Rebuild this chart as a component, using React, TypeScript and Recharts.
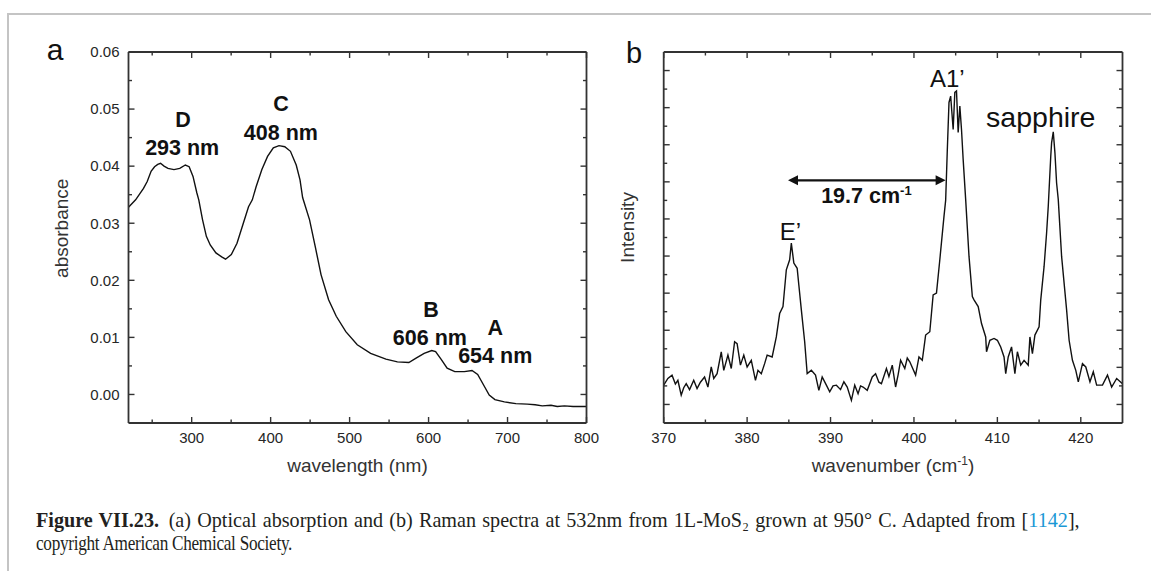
import React from 'react';
import { LineChart, Line, XAxis, YAxis, ReferenceDot, ReferenceLine } from 'recharts';

// ---------- Panel (a): optical absorption ----------
const wavelength = [
  220, 229, 239, 243.7, 248.6, 253, 257, 260.6, 265, 270, 277.6, 284.9, 292, 296.8, 301.7, 306.6, 309,
  313.8, 318.6, 323.5, 330.7, 338, 342.9, 350.2, 357.4, 364.7, 372, 376.8, 381.6, 388.9, 396.1, 403.4,
  410.6, 417.9, 425.1, 432.4, 437.2, 440.5, 449.3, 456.5, 463.8, 473.4, 483.1, 495.2, 509.7, 526.6, 546,
  560.5, 575, 584.7, 594.4, 604, 608.9, 616.2, 623.5, 633.2, 645.3, 655, 662.2, 669.5, 676.8, 684, 696,
  710.6, 725, 735, 744, 755, 763, 772, 783, 792, 800,
];
const absorbance = [
  0.0328, 0.0341, 0.0361, 0.0373, 0.0391, 0.0399, 0.0403, 0.0405, 0.04, 0.0396, 0.0394, 0.0396, 0.0402,
  0.0399, 0.0382, 0.0353, 0.0341, 0.0306, 0.0277, 0.0262, 0.0248, 0.0241, 0.0237, 0.0245, 0.0265, 0.0297,
  0.0329, 0.0341, 0.0364, 0.0394, 0.0417, 0.0432, 0.0436, 0.0434, 0.0426, 0.0402, 0.0376, 0.0345, 0.0306,
  0.0259, 0.021, 0.0166, 0.0137, 0.011, 0.0087, 0.0072, 0.0062, 0.0057, 0.0056, 0.0064, 0.0072, 0.0077,
  0.0075, 0.0061, 0.0046, 0.004, 0.004, 0.0042, 0.0035, 0.0017, -0.0001, -0.0009, -0.0013, -0.0016,
  -0.0017, -0.0018, -0.002, -0.0019, -0.0021, -0.002, -0.0021, -0.0021, -0.0021,
];
const absXTicks = [300, 400, 500, 600, 700, 800];
const absXMinor = [250, 350, 450, 550, 650, 750];
const absYTicks = [0, 0.01, 0.02, 0.03, 0.04, 0.05, 0.06];
const absYMinor = [0.005, 0.015, 0.025, 0.035, 0.045, 0.055];
const absLabels = [
  { text: 'D', x: 289, y: 0.0483 },
  { text: '293 nm', x: 288, y: 0.0433 },
  { text: 'C', x: 413, y: 0.051 },
  { text: '408 nm', x: 413, y: 0.0459 },
  { text: 'B', x: 603, y: 0.015 },
  { text: '606 nm', x: 601.7, y: 0.01 },
  { text: 'A', x: 684.4, y: 0.0118 },
  { text: '654 nm', x: 684.4, y: 0.0069 },
];

// ---------- Panel (b): Raman ----------
const wavenumber = [
  370, 370.5, 371, 371.4, 371.7, 372.1, 372.4, 372.7, 373.1, 373.6, 374, 374.4, 374.9, 375.3, 375.7, 376,
  376.4, 376.9, 377.2, 377.7, 378.1, 378.5, 378.8, 379.2, 379.6, 380, 380.5, 381, 381.3, 381.7, 382.1,
  382.4, 383, 383.5, 383.9, 384.3, 384.7, 385.1, 385.3, 385.6, 386, 386.2, 386.5, 386.9, 387.2, 387.7,
  388.2, 388.6, 389, 389.5, 389.9, 390.3, 390.7, 391.2, 391.6, 392, 392.5, 392.9, 393.3, 393.6, 393.9,
  394.4, 395, 395.4, 395.8, 396.1, 396.7, 397, 397.4, 397.8, 398.1, 398.4, 398.9, 399.2, 399.5, 400.2,
  400.6, 401, 401.4, 401.9, 402.3, 402.7, 403.1, 403.6, 403.8, 404, 404.2, 404.4, 404.7, 404.9, 405.1,
  405.3, 405.5, 405.7, 405.9, 406.2, 406.6, 407, 407.2, 407.7, 408.1, 408.6, 408.7, 409.1, 409.6, 410,
  410.4, 410.8, 411, 411.3, 411.7, 412.1, 412.4, 412.8, 413.2, 413.7, 413.9, 414.2, 414.5, 415, 415.2,
  415.6, 415.9, 416.1, 416.4, 416.5, 416.7, 416.9, 417.1, 417.3, 417.7, 418, 418.3, 418.6, 419, 419.4,
  419.7, 420.2, 420.6, 421.1, 421.5, 421.9, 422.6, 423.2, 423.7, 424.3, 425,
];
const intensity = [
  1.02, 1.2, 1.29, 1.05, 1.15, 0.75, 0.95, 1.06, 0.9, 1.15, 0.93, 1.1, 1.24, 0.97, 1.51, 1.2,
  1.33, 1.92, 1.42, 1.83, 1.47, 2.19, 2.14, 1.56, 1.83, 1.51, 1.69, 1.15, 1.42, 1.33, 1.6,
  1.83, 1.78, 2.32, 2.95, 3.14, 4.13, 4.4, 4.85, 4.31, 4.17, 3.72, 3.05, 2.19, 1.33, 1.42,
  1.29, 0.88, 1.24, 1.02, 0.84, 1.0, 1.02, 0.9, 1.11, 0.97, 0.61, 1.02, 0.79, 1.0, 0.97,
  0.88, 1.24, 1.33, 1.1, 1.06, 1.47, 1.25, 1.56, 0.97, 1.3, 1.69, 1.47, 1.75, 1.65, 1.29,
  1.78, 1.69, 2.37, 2.46, 3.45, 3.5, 4.4, 5.57, 6.0, 7.37, 8.64, 8.81, 7.91, 8.91, 8.95,
  7.83, 8.54, 7.91, 7.1, 6.02, 4.49, 3.41, 3.32, 3.14, 2.68, 2.32, 1.92, 2.23, 2.28, 2.23,
  2.05, 1.78, 1.33, 1.78, 2.05, 1.33, 1.92, 1.56, 1.69, 1.56, 2.32, 1.87, 2.37, 2.59, 3.32,
  4.22, 5.12, 5.84, 7.19, 7.55, 7.85, 7.28, 6.47, 6.02, 4.49, 3.77, 3.05, 2.23, 1.69, 1.42,
  1.11, 1.6, 1.51, 1.11, 1.38, 1.02, 1.02, 1.29, 0.97, 1.2, 1.06,
];
const ramXTicks = [370, 380, 390, 400, 410, 420];
const ramXMinor = [375, 385, 395, 405, 415];
const ramYTicks = [0.5, 1.5, 2.5, 3.5, 4.5, 5.5, 6.5, 7.5, 8.5, 9.5];
const ramYMinor = [1, 2, 3, 4, 5, 6, 7, 8, 9];
const ramLabels = [
  { text: 'A1\u2019', x: 404.0, y: 9.3, size: 24 },
  { text: 'sapphire', x: 415.2, y: 8.26, size: 28.5 },
  { text: 'E\u2019', x: 385.2, y: 5.16, size: 24 },
];
const shiftArrow = { from: 384.9, to: 403.8, y: 6.54 };
const shiftLabel = { x: 394.3, y: 6.15 };

const absData = wavelength.map((x, i) => ({ x, y: absorbance[i] }));
const ramData = wavenumber.map((x, i) => ({ x, y: intensity[i] }));

const FONT = "'Liberation Sans', Arial, sans-serif";
const SERIF = "'Liberation Serif', 'DejaVu Serif', 'Times New Roman', serif";
const AX = { stroke: '#333', strokeWidth: 1.8 };
const TICK_COLOR = '#262626';

const merge = (a: number[], b: number[]) => [...a, ...b].sort((p, q) => p - q);

// Inward ticks (long for major, short for minor) with optional outside labels.
const makeTick = (side: 'bottom' | 'top' | 'left' | 'right', majors: number[], fmt?: (v: number) => string) =>
  (props: any) => {
    const { x, y, payload } = props;
    const v = payload.value;
    const major = majors.some((m) => Math.abs(m - v) < 1e-9);
    const len = major ? 6 : 3.5;
    let x2 = x, y2 = y;
    if (side === 'bottom') y2 = y - len;
    if (side === 'top') y2 = y + len;
    if (side === 'left') x2 = x + len;
    if (side === 'right') x2 = x - len;
    let label = null;
    if (major && fmt) {
      if (side === 'bottom') {
        label = <text x={x} y={y + 19.6} textAnchor="middle" fontSize={15} fontFamily={FONT} fill={TICK_COLOR}>{fmt(v)}</text>;
      } else if (side === 'left') {
        label = <text x={x - 9} y={y + 5.3} textAnchor="end" fontSize={15} fontFamily={FONT} fill={TICK_COLOR}>{fmt(v)}</text>;
      }
    }
    return (
      <g>
        <line x1={x} y1={y} x2={x2} y2={y2} stroke="#333" strokeWidth={1.4} />
        {label}
      </g>
    );
  };

const centered = (text: React.ReactNode, size: number, weight: number | string = 400) =>
  (props: any) => {
    const vb = props.viewBox || {};
    const cx = (vb.x || 0) + (vb.width || 0) / 2;
    const cy = (vb.y || 0) + (vb.height || 0) / 2;
    return (
      <text x={cx} y={cy + size * 0.36} textAnchor="middle" fontSize={size} fontWeight={weight}
        fontFamily={FONT} fill="#111">{text}</text>
    );
  };

const shiftText = (props: any) => {
  const vb = props.viewBox || {};
  const cx = (vb.x || 0) + (vb.width || 0) / 2;
  const cy = (vb.y || 0) + (vb.height || 0) / 2;
  return (
    <text x={cx} y={cy + 7.7} textAnchor="middle" fontSize={21.5} fontWeight="bold" fontFamily={FONT} fill="#111">
      19.7 cm<tspan fontSize={13} dy={-8}>-1</tspan>
    </text>
  );
};

const ArrowShape = (p: any) => {
  const { x1, y1, x2, y2 } = p;
  const h = 10, w = 5;
  return (
    <g>
      <line x1={x1 + h - 1} y1={y1} x2={x2 - h + 1} y2={y2} stroke="#111" strokeWidth={2.2} />
      <polygon points={`${x1},${y1} ${x1 + h},${y1 - w} ${x1 + h},${y1 + w}`} fill="#111" />
      <polygon points={`${x2},${y2} ${x2 - h},${y2 - w} ${x2 - h},${y2 + w}`} fill="#111" />
    </g>
  );
};

const axisCommon = {
  allowDataOverflow: true,
  interval: 0 as const,
  tickSize: 0,
  tickMargin: 0,
  tickLine: false,
  axisLine: AX,
};

function AbsorptionChart() {
  const W = 620, H = 500;
  const xs = merge(absXTicks, absXMinor);
  const ys = merge(absYTicks, absYMinor);
  const xd: [number, number] = [220, 800];
  const yd: [number, number] = [-0.005, 0.06];
  return (
    <LineChart width={W} height={H} data={absData}
      margin={{ top: 52 - 1, left: 128.5 - 1, right: W - 586.5 - 1, bottom: H - 423 - 1 }}>
      <XAxis {...axisCommon} type="number" dataKey="x" domain={xd} ticks={xs} height={1}
        tick={makeTick('bottom', absXTicks, (v) => String(v))} />
      <XAxis {...axisCommon} xAxisId="top" orientation="top" type="number" dataKey="x" domain={xd} ticks={xs}
        height={1} tick={makeTick('top', absXTicks)} />
      <YAxis {...axisCommon} type="number" domain={yd} ticks={ys} width={1}
        tick={makeTick('left', absYTicks, (v) => v.toFixed(2))} />
      <YAxis {...axisCommon} yAxisId="right" orientation="right" type="number" domain={yd} ticks={ys} width={1}
        tick={makeTick('right', absYTicks)} />
      <Line type="linear" dataKey="y" stroke="#111" strokeWidth={1.4} dot={false} isAnimationActive={false} />
      {absLabels.map((l, i) => (
        <ReferenceDot key={i} x={l.x} y={l.y} r={0} fill="none" stroke="none"
          label={centered(l.text, 21.5, 'bold')} />
      ))}
    </LineChart>
  );
}

function RamanChart() {
  const W = 561, H = 500, L = 590;
  const xs = merge(ramXTicks, ramXMinor);
  const ys = merge(ramYTicks, ramYMinor);
  const xd: [number, number] = [370, 425];
  const yd: [number, number] = [0, 10];
  return (
    <LineChart width={W} height={H} data={ramData}
      margin={{ top: 52 - 1, left: 663.7 - L - 1, right: 1151 - 1122.5 - 1, bottom: H - 423 - 1 }}>
      <XAxis {...axisCommon} type="number" dataKey="x" domain={xd} ticks={xs} height={1}
        tick={makeTick('bottom', ramXTicks, (v) => String(v))} />
      <XAxis {...axisCommon} xAxisId="top" orientation="top" type="number" dataKey="x" domain={xd} ticks={xs}
        height={1} tick={makeTick('top', ramXTicks)} />
      <YAxis {...axisCommon} type="number" domain={yd} ticks={ys} width={1} tick={makeTick('left', ramYTicks)} />
      <YAxis {...axisCommon} yAxisId="right" orientation="right" type="number" domain={yd} ticks={ys} width={1}
        tick={makeTick('right', ramYTicks)} />
      <Line type="linear" dataKey="y" stroke="#111" strokeWidth={1.4} dot={false} isAnimationActive={false} />
      <ReferenceLine segment={[{ x: shiftArrow.from, y: shiftArrow.y }, { x: shiftArrow.to, y: shiftArrow.y }]}
        shape={ArrowShape} />
      <ReferenceDot x={shiftLabel.x} y={shiftLabel.y} r={0} fill="none" stroke="none" label={shiftText} />
      {ramLabels.map((l, i) => (
        <ReferenceDot key={i} x={l.x} y={l.y} r={0} fill="none" stroke="none" label={centered(l.text, l.size)} />
      ))}
    </LineChart>
  );
}

export default function App() {
  return (
    <div style={{ position: 'absolute', left: 0, top: 0, width: 1151, height: 571, background: '#fff', overflow: 'hidden' }}>
      <div style={{ position: 'absolute', left: 7, top: 12.7, width: 1144, height: 560, borderTop: '2px solid #c4c4c4', borderLeft: '2px solid #c4c4c4' }} />
      <div style={{ position: 'absolute', left: 0, top: 0 }}>
        <AbsorptionChart />
      </div>
      <div style={{ position: 'absolute', left: 590, top: 0 }}>
        <RamanChart />
      </div>
      <svg width={1151} height={571} style={{ position: 'absolute', left: 0, top: 0, pointerEvents: 'none' }}>
        <text x={55} y={60} textAnchor="middle" fontSize={30} fontFamily={FONT} fill="#111">a</text>
        <text x={634} y={63} textAnchor="middle" fontSize={29} fontFamily={FONT} fill="#111">b</text>
        <text transform="translate(67.5,228.3) rotate(-90)" textAnchor="middle" fontSize={19} fontFamily={FONT} fill="#333">absorbance</text>
        <text transform="translate(634,227.5) rotate(-90)" textAnchor="middle" fontSize={19} fontFamily={FONT} fill="#333">Intensity</text>
        <text x={357.5} y={472} textAnchor="middle" fontSize={19} fontFamily={FONT} fill="#333">wavelength (nm)</text>
        <text x={893} y={472} textAnchor="middle" fontSize={19} fontFamily={FONT} fill="#333">
          wavenumber (cm<tspan fontSize={12} dy={-7}>-1</tspan><tspan dy={7}>)</tspan>
        </text>
        <g transform="translate(36,527) scale(0.96,1)">
          <text x={0} y={0} fontFamily={SERIF} fontSize={21} fill="#231f20" wordSpacing={1.2}>
            <tspan fontWeight="bold">Figure VII.23.</tspan>
            <tspan dx={10}>{'(a) Optical absorption and (b) Raman spectra at 532nm from 1L-MoS\u2082 grown at 950° C. Adapted from ['}</tspan>
            <tspan fill="#1b98d5">1142</tspan>
            <tspan>],</tspan>
          </text>
        </g>
        <g transform="translate(36,550) scale(0.82,1)">
          <text x={0} y={0} fontFamily={SERIF} fontSize={21} fill="#231f20" letterSpacing={-0.35}>
            copyright American Chemical Society.
          </text>
        </g>
      </svg>
    </div>
  );
}
